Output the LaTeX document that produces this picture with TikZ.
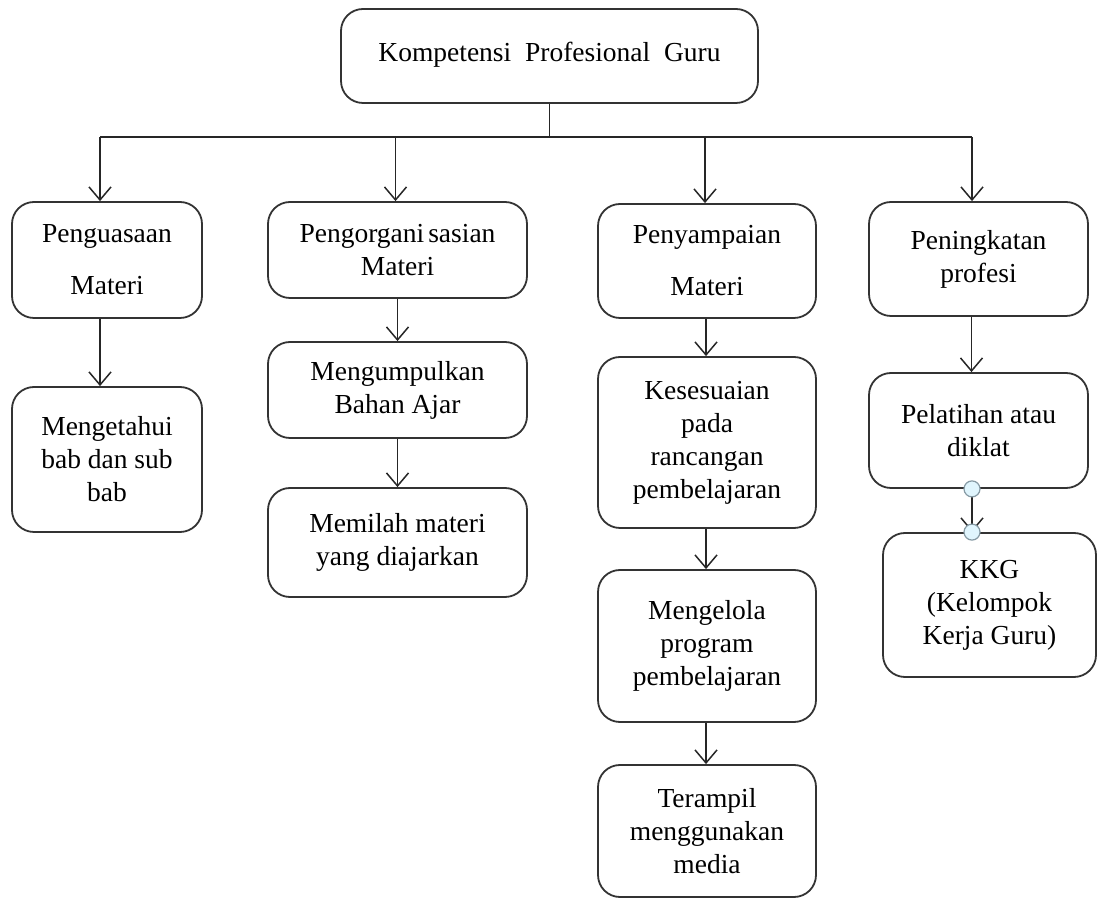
\documentclass[tikz,border=0pt]{standalone}
\usepackage{fontspec}
\setmainfont{Liberation Serif}
\usetikzlibrary{arrows.meta}

\begin{document}
\begin{tikzpicture}[x=1pt, y=1pt,
    box/.style={draw=black!80, line width=1.8pt, rounded corners=22pt, align=center,
        inner sep=0pt, font=\fontsize{27.5}{33}\selectfont},
    arr/.style={draw=black!85, line width=1.5pt, -{Straight Barb[length=13pt, width=22pt]}},
    handle/.style={circle, draw=gray!80!cyan, fill=cyan!12, line width=1.2pt,
        minimum size=16pt, inner sep=0pt}]

    \useasboundingbox (0,0) rectangle (1098,900);

    % draw nodes
    \node [box, minimum width=417pt, minimum height=94pt, text depth=8pt]
        (vtop) at (549.5,844) {Kompetensi\hspace{0.5em}Profesional\hspace{0.5em}Guru};
    \foreach \n/\x/\y/\w/\h/\t in {
        pen/107/640/190/116/{Penguasaan\\[19pt]Materi},
        tahu/107/440.5/190/145/{Mengetahui\\bab dan sub\\bab},
        org/397.5/650/259/96/{Pengorgani\kern4pt sasian\\Materi},
        kumpul/397.5/510/259/96/{Mengumpulkan\\Bahan Ajar},
        pilah/397.5/357.5/259/109/{Memilah materi\\yang diajarkan},
        sampai/707/639/218/114/{Penyampaian\\[19pt]Materi},
        sesuai/707/457.5/218/171/{Kesesuaian\\pada\\rancangan\\pembelajaran},
        kelola/707/254/218/152/{Mengelola\\program\\pembelajaran},
        terampil/707/69/218/132/{Terampil\\menggunakan\\media},
        tingkat/978.5/641/219/114/{Peningkatan\\profesi},
        latih/978.5/469.5/219/115/{Pelatihan atau\\diklat},
        kkg/989.5/295/213/144/{KKG\\(Kelompok\\Kerja Guru)}}
        \node [box, minimum width=\w pt, minimum height=\h pt]
            (v\n) at (\x, \y) {\t};

    % draw edges
    \coordinate (bar) at (549.5,763);
    \draw [draw=black!85, line width=1.5pt] (vtop.south) -- (bar);
    \draw [draw=black!85, line width=1.5pt]
        ([xshift=-7pt]vpen.north |- bar) -- ([xshift=-6.5pt]vtingkat.north |- bar);
    \foreach \t/\s in {pen/-7, org/-2, sampai/-2, tingkat/-6.5}
        \draw [arr] ([xshift=\s pt]v\t.north |- bar) -- ([xshift=\s pt]v\t.north);
    \foreach \i/\j/\s in {pen/tahu/-7, org/kumpul/0, kumpul/pilah/0, sampai/sesuai/-1,
        sesuai/kelola/-1, kelola/terampil/-1, tingkat/latih/-7}
        \draw [arr] ([xshift=\s pt]v\i.south) -- ([xshift=\s pt]v\i.south |- v\j.north);

    \coordinate (h1) at ([xshift=-6.5pt]vlatih.south);
    \coordinate (h2) at (h1 |- vkkg.north);
    \draw [arr] (h1) -- (h2);
    \node [handle] (c1) at (h1) {};
    \node [handle] (c2) at (h2) {};

\end{tikzpicture}
\end{document}
